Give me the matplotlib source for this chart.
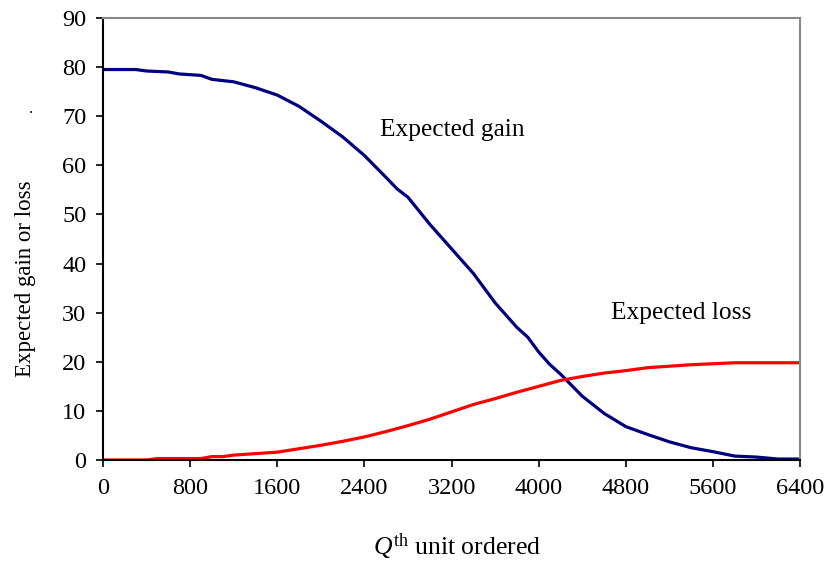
import matplotlib
matplotlib.use("Agg")
import matplotlib.pyplot as plt

plt.rcParams['font.family'] = ['Liberation Serif', 'DejaVu Serif']
plt.rcParams['mathtext.fontset'] = 'custom'
plt.rcParams['mathtext.rm'] = 'Liberation Serif'
plt.rcParams['mathtext.it'] = 'Liberation Serif:italic'

# data
q_gain = [0, 300, 400, 600, 700, 900, 1000, 1200, 1400, 1600, 1800, 2000, 2200, 2400,
          2600, 2700, 2800, 3000, 3200, 3400, 3600, 3800, 3900, 4000, 4100, 4200, 4400,
          4600, 4800, 5000, 5200, 5400, 5600, 5800, 6000, 6200, 6400]
gain = [79.5, 79.5, 79.2, 79.0, 78.6, 78.3, 77.5, 77.0, 75.8, 74.3, 72.0, 69.0, 65.8, 62.0,
        57.5, 55.2, 53.5, 48.0, 43.0, 38.0, 32.0, 27.0, 25.0, 22.0, 19.5, 17.5, 13.0,
        9.5, 6.8, 5.2, 3.7, 2.5, 1.7, 0.8, 0.6, 0.2, 0.2]

q_loss = [0, 400, 500, 900, 1000, 1100, 1200, 1400, 1600, 1800, 2000, 2200, 2400, 2600,
          2800, 3000, 3200, 3400, 3600, 3800, 4000, 4200, 4400, 4600, 4800, 5000, 5200,
          5400, 5600, 5800, 6400]
loss = [0, 0, 0.3, 0.3, 0.7, 0.7, 1.0, 1.3, 1.6, 2.3, 3.0, 3.8, 4.7, 5.8,
        7.0, 8.3, 9.8, 11.3, 12.5, 13.8, 15.0, 16.2, 17.0, 17.7, 18.2, 18.8, 19.1,
        19.4, 19.6, 19.8, 19.8]

x_ticks = [0, 800, 1600, 2400, 3200, 4000, 4800, 5600, 6400]
y_ticks = [0, 10, 20, 30, 40, 50, 60, 70, 80, 90]

fig = plt.figure(figsize=(8.27, 5.61), dpi=100)
ax = fig.add_axes([0.1245, 0.18, 0.843, 0.788])

ax.plot(q_gain, gain, color='#000080', lw=2.3, solid_joinstyle='round')
ax.plot(q_loss, loss, color='#ff0000', lw=2.3, solid_joinstyle='round')

ax.set_xlim(0, 6400)
ax.set_ylim(0, 90)
ax.set_xticks(x_ticks)
ax.set_yticks(y_ticks)
ax.tick_params(direction='out', length=5, width=1.2, labelsize=17.5)
ax.tick_params(axis='x', pad=8)
ax.tick_params(axis='y', pad=7)

for side in ['left', 'bottom']:
    ax.spines[side].set_color('black')
    ax.spines[side].set_linewidth(1.5)
for side in ['top', 'right']:
    ax.spines[side].set_color('#888888')
    ax.spines[side].set_linewidth(1.5)

ax.text(3205, 67.2, 'Expected gain', fontsize=18.3, ha='center', va='center')
ax.text(5307, 30.0, 'Expected loss', fontsize=18.3, ha='center', va='center')

fig.text(0.553, 0.025, r'$\mathit{Q}^{\mathrm{th}}$ unit ordered', fontsize=18.5, ha='center', va='center')
fig.text(0.031, 0.503, 'Expected gain or loss', fontsize=16.5, ha='center', va='center', rotation=90)
fig.text(0.037, 0.805, '.', fontsize=12, ha='center', va='center')

fig.savefig('out.png', dpi=100)
